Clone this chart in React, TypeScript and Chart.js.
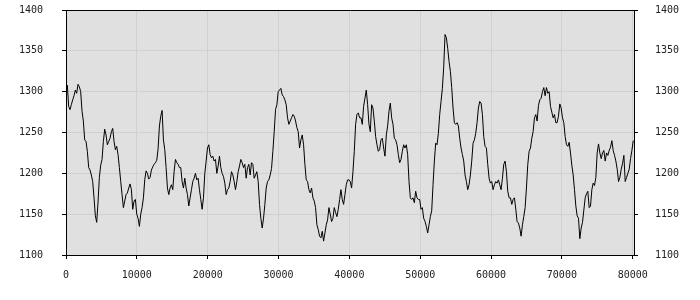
import React, { useEffect, useRef } from "react";
import { Chart, registerables } from "chart.js";

Chart.register(...registerables);

// spacing between consecutive samples along the x axis (data units)
const X_STEP = 188.4;

// series values, one per sample
const seriesValues: number[] = [
  1304, 1308, 1282, 1278, 1284, 1290, 1295, 1302, 1298, 1309,
  1306, 1300, 1276, 1264, 1241, 1239, 1227, 1207, 1204, 1198,
  1190, 1170, 1148, 1140, 1165, 1195, 1210, 1217, 1239, 1254,
  1247, 1235, 1239, 1243, 1251, 1255, 1239, 1229, 1233, 1223,
  1207, 1190, 1174, 1158, 1166, 1174, 1176, 1182, 1187, 1180,
  1156, 1166, 1168, 1150, 1145, 1135, 1150, 1158, 1170, 1192,
  1203, 1200, 1193, 1195, 1204, 1208, 1211, 1213, 1216, 1230,
  1258, 1270,
  1277, 1241, 1229, 1207, 1182, 1174, 1182, 1186, 1180, 1202,
  1217, 1213, 1211, 1207, 1207, 1190, 1182, 1194, 1182, 1174,
  1160, 1170, 1180, 1190, 1194, 1200, 1192, 1194, 1180, 1168,
  1156, 1170, 1200, 1215, 1231, 1235, 1223, 1219, 1221, 1215,
  1217, 1200, 1209, 1221, 1207, 1200, 1196, 1188, 1174, 1180,
  1182, 1190, 1202, 1198, 1190, 1180, 1190, 1202, 1209, 1217,
  1213, 1207, 1211, 1194, 1207, 1211, 1198, 1213, 1211, 1194,
  1198, 1202, 1190, 1162, 1145, 1133, 1145, 1162, 1182, 1190,
  1192, 1198, 1206, 1227, 1251, 1278, 1284, 1300, 1302, 1304,
  1296, 1294, 1290, 1284, 1268, 1260, 1264, 1268, 1272, 1270,
  1264, 1256, 1251, 1231, 1241, 1247, 1235, 1211, 1192, 1190,
  1180, 1176, 1182, 1170, 1166, 1158, 1137, 1131, 1123, 1121,
  1129, 1117, 1127, 1137, 1143, 1158, 1150, 1141, 1145, 1158,
  1152, 1147, 1156, 1168, 1180, 1168, 1162, 1174, 1186, 1192,
  1192, 1190, 1182, 1202, 1227, 1260, 1272, 1274, 1268, 1268,
  1260, 1282, 1292, 1302, 1284, 1260, 1251, 1284, 1280, 1264,
  1245, 1235, 1227, 1229, 1241, 1243, 1231, 1221, 1247, 1258,
  1276, 1286, 1268, 1260, 1243, 1241, 1235, 1223, 1213, 1217,
  1227, 1235, 1231, 1235, 1223, 1190, 1170, 1168, 1170, 1164,
  1178, 1170, 1168, 1168, 1156, 1158, 1145, 1141, 1135, 1127,
  1137, 1147, 1154, 1186, 1215, 1237, 1235, 1249, 1272, 1288,
  1304, 1330,
  1370, 1366, 1353, 1337, 1325, 1305, 1280, 1262, 1260, 1262,
  1258, 1243, 1231, 1223, 1215, 1198, 1190, 1180, 1186, 1198,
  1215, 1237, 1241, 1249, 1262, 1280, 1288, 1286, 1272, 1245,
  1233, 1231, 1211, 1194, 1188, 1190, 1180, 1186, 1190, 1188,
  1192, 1186, 1180, 1194, 1211, 1215, 1202, 1178, 1170, 1170,
  1162, 1168, 1170, 1156, 1141, 1139, 1133, 1123, 1137, 1147,
  1158, 1182, 1211, 1227, 1231, 1243, 1251, 1268, 1272, 1264,
  1283, 1290, 1292, 1300, 1305, 1295, 1305, 1298, 1300, 1282,
  1275, 1268, 1272, 1262, 1262, 1270, 1285, 1280, 1268, 1262,
  1245, 1235, 1233, 1238, 1225, 1210, 1198, 1180, 1160, 1148,
  1145, 1120, 1133, 1140, 1155, 1170, 1175, 1178, 1158, 1160,
  1180, 1188, 1185, 1195, 1225, 1236, 1225, 1218, 1225, 1228,
  1215, 1225, 1222, 1228, 1232, 1240, 1228, 1222, 1215, 1205,
  1190, 1195, 1205, 1212, 1222, 1190, 1195, 1200, 1205, 1218,
  1228, 1240,
];

const xTickValues = [0, 10000, 20000, 30000, 40000, 50000, 60000, 70000, 80000];
const yTickValues = [1100, 1150, 1200, 1250, 1300, 1350, 1400];

const X_MIN = 0;
const X_MAX = 80180;
const Y_MIN = 1100;
const Y_MAX = 1400;

const FONT = { family: "'DejaVu Sans Mono', monospace", size: 10 };
const TEXT_COLOR = "#222222";
const GRID_COLOR = "#d0d0d0";
const PLOT_BG = "#e0e0e0";

const plotFrame = {
  id: "plotFrame",
  beforeDraw(chart: any) {
    const { ctx, chartArea } = chart;
    const { left, top, right, bottom } = chartArea;
    ctx.save();
    ctx.fillStyle = PLOT_BG;
    ctx.fillRect(left, top, right - left, bottom - top);
    ctx.restore();
  },
  afterDraw(chart: any) {
    const { ctx, chartArea } = chart;
    const { left, top, right } = chartArea;
    ctx.save();
    ctx.strokeStyle = "#000000";
    ctx.lineWidth = 1;
    ctx.beginPath();
    ctx.moveTo(left, top + 0.5);
    ctx.lineTo(right + 1, top + 0.5);
    ctx.stroke();
    ctx.restore();
  },
};

export default function App() {
  const canvasRef = useRef<HTMLCanvasElement | null>(null);

  useEffect(() => {
    const canvas = canvasRef.current;
    if (!canvas) return;
    const points = seriesValues.map((v, i) => ({ x: i * X_STEP, y: v }));

    const yScaleBase = {
      type: "linear" as const,
      min: Y_MIN,
      max: Y_MAX,
      afterBuildTicks: (scale: any) => {
        scale.ticks = yTickValues.map((v) => ({ value: v }));
      },
      ticks: {
        font: FONT,
        color: TEXT_COLOR,
        callback: (v: any) => String(v),
      },
      border: { display: true, color: "#000000", width: 1 },
    };

    const fitY = (scale: any) => {
      scale.width = 66;
      scale.paddingTop = 0;
      scale.paddingBottom = 0;
    };

    const chart = new Chart(canvas, {
      type: "line",
      data: {
        datasets: [
          {
            data: points,
            borderColor: "#000000",
            borderWidth: 1,
            pointRadius: 0,
            tension: 0,
            fill: false,
            xAxisID: "x",
            yAxisID: "y",
          },
        ],
      },
      options: {
        responsive: false,
        animation: false,
        devicePixelRatio: 1,
        layout: { padding: { top: 10, left: 0, right: 0, bottom: 0 } },
        plugins: {
          legend: { display: false },
          tooltip: { enabled: false },
          title: { display: false },
        },
        scales: {
          x: {
            type: "linear",
            position: "bottom",
            min: X_MIN,
            max: X_MAX,
            afterBuildTicks: (scale: any) => {
              scale.ticks = xTickValues.map((v) => ({ value: v }));
            },
            afterFit: (scale: any) => {
              scale.height = 45;
              scale.paddingLeft = 0;
              scale.paddingRight = 0;
            },
            grid: {
              color: GRID_COLOR,
              tickColor: "#000000",
              tickLength: 4,
              drawTicks: true,
            },
            ticks: {
              font: FONT,
              color: TEXT_COLOR,
              padding: 10,
              maxRotation: 0,
              autoSkip: false,
              callback: (v: any) => String(v),
            },
            border: { display: true, color: "#000000", width: 1 },
          },
          y: {
            ...yScaleBase,
            position: "left",
            afterFit: fitY,
            grid: {
              color: GRID_COLOR,
              tickColor: "#000000",
              tickLength: 4,
              drawTicks: true,
            },
            ticks: { ...yScaleBase.ticks, padding: 19 },
          },
          y2: {
            ...yScaleBase,
            position: "right",
            afterFit: fitY,
            grid: {
              drawOnChartArea: false,
              tickColor: "#000000",
              tickLength: 4,
              drawTicks: true,
            },
            ticks: { ...yScaleBase.ticks, padding: 17 },
          },
        },
      },
      plugins: [plotFrame],
    } as any);

    return () => {
      chart.destroy();
    };
  }, []);

  return (
    <div style={{ position: "absolute", left: 0, top: 0, width: 700, height: 300, background: "#ffffff" }}>
      <canvas ref={canvasRef} width={700} height={300} style={{ display: "block", width: 700, height: 300 }} />
    </div>
  );
}
